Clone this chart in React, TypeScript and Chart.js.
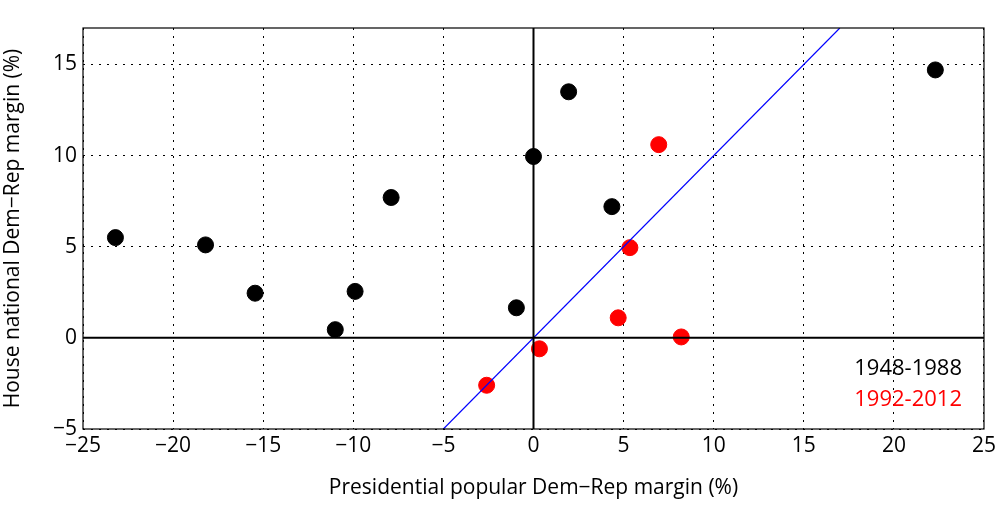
import React, { useEffect, useRef } from "react";
import { Chart, registerables } from "chart.js";
Chart.register(...registerables);

const blackPoints = [
  { x: -23.2, y: 5.5 }, { x: -18.2, y: 5.1 }, { x: -15.45, y: 2.45 }, { x: -11.0, y: 0.45 },
  { x: -9.9, y: 2.55 }, { x: -7.9, y: 7.7 }, { x: -0.95, y: 1.65 }, { x: 0.0, y: 9.95 },
  { x: 1.95, y: 13.5 }, { x: 4.35, y: 7.2 }, { x: 22.3, y: 14.7 },
];
const redPoints = [
  { x: -2.6, y: -2.6 }, { x: 0.33, y: -0.6 }, { x: 4.7, y: 1.1 }, { x: 5.35, y: 4.95 },
  { x: 6.95, y: 10.6 }, { x: 8.2, y: 0.05 },
];
const diagLine = [{ x: -5, y: -5 }, { x: 17, y: 17 }];
const yTicks = [-5, 0, 5, 10, 15];
const legendLabels = ["1948-1988", "1992-2012"];
const FONT = "'Open Sans', 'DejaVu Sans', sans-serif";

const overlay = {
  id: "overlay",
  afterDraw(chart: any) {
    const { ctx, chartArea: a } = chart;
    ctx.save();
    ctx.strokeStyle = "#000";
    ctx.lineWidth = 1.2;
    ctx.strokeRect(a.left, a.top, a.right - a.left, a.bottom - a.top);
    ctx.font = `22px ${FONT}`;
    ctx.textAlign = "right";
    ctx.textBaseline = "middle";
    ctx.fillStyle = "#000";
    ctx.fillText(legendLabels[0], a.right - 22, 369);
    ctx.fillStyle = "#ff0000";
    ctx.fillText(legendLabels[1], a.right - 22, 400);
    ctx.restore();
  },
};

export default function App() {
  const ref = useRef<HTMLCanvasElement>(null);
  useEffect(() => {
    document.body.style.margin = "0";
    const fmt = (v: any) => String(v).replace("-", "\u2212");
    const chart = new Chart(ref.current!, {
      type: "scatter",
      data: {
        datasets: [
          { type: "line", data: [{ x: 0, y: -5 }, { x: 0, y: 17 }], borderColor: "#000", borderWidth: 2, pointRadius: 0 } as any,
          { type: "line", data: [{ x: -25, y: 0 }, { x: 25, y: 0 }], borderColor: "#000", borderWidth: 2, pointRadius: 0 } as any,
          { type: "line", data: diagLine, borderColor: "#0000ff", borderWidth: 1.2, pointRadius: 0 } as any,
          { data: blackPoints, backgroundColor: "#000", borderColor: "#000", pointRadius: 8 },
          { data: redPoints, backgroundColor: "#ff0000", borderColor: "#ff0000", pointRadius: 8 },
        ],
      },
      options: {
        animation: false,
        responsive: false,
        layout: { padding: { top: 28, right: 8, left: 0, bottom: 0 } },
        plugins: { legend: { display: false }, tooltip: { enabled: false } },
        scales: {
          x: {
            type: "linear", min: -25, max: 25,
            ticks: { stepSize: 5, color: "#000", font: { size: 21, family: FONT }, callback: fmt, padding: 4 },
            grid: { color: "#000", lineWidth: 1, drawTicks: false },
            border: { display: false, dash: [2, 6] },
            title: { display: true, text: "Presidential popular Dem\u2212Rep margin (%)", color: "#000", font: { size: 21, family: FONT }, padding: { top: 2 } },
            afterFit: (s: any) => { s.height = 76; },
          },
          y: {
            type: "linear", min: -5, max: 17,
            afterBuildTicks: (s: any) => { s.ticks = yTicks.map((v) => ({ value: v })); },
            ticks: { color: "#000", font: { size: 21, family: FONT }, callback: fmt, padding: 6 },
            grid: { color: "#000", lineWidth: 1, drawTicks: false },
            border: { display: false, dash: [2, 6] },
            title: { display: true, text: "House national Dem\u2212Rep margin (%)", color: "#000", font: { size: 21, family: FONT }, padding: 0 },
            afterFit: (s: any) => { s.width = 83; },
          },
        },
      },
      plugins: [overlay],
    } as any);
    return () => chart.destroy();
  }, []);
  return <canvas ref={ref} width={1000} height={505} />;
}
